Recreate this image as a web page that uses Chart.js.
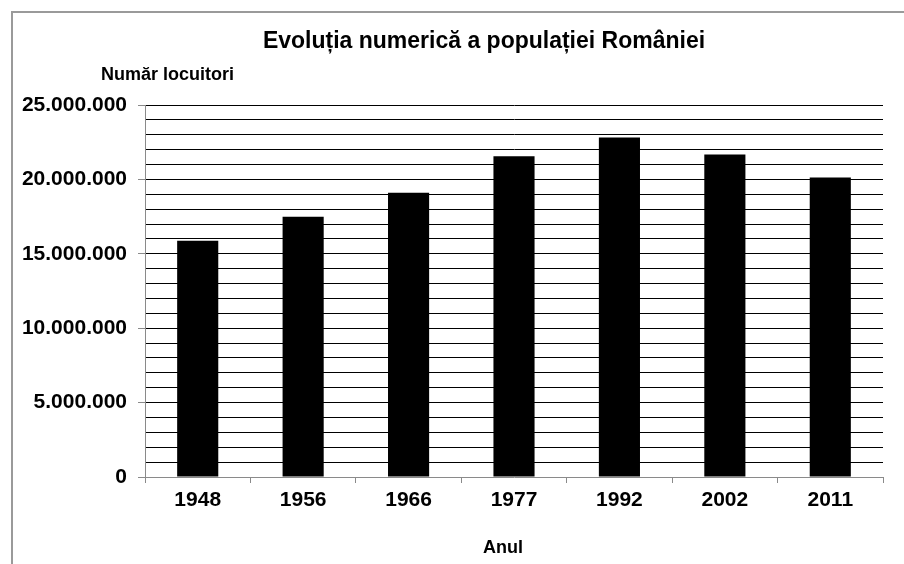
<!DOCTYPE html>
<html>
<head>
<meta charset="utf-8">
<script src="https://cdn.jsdelivr.net/npm/chart.js@4/dist/chart.umd.min.js"></script>
<style>
    body { margin: 0; background: #fff; }
    #wrap { width: 904px; height: 564px; position: relative; }
</style>
</head>
<body>
<div id="wrap"><canvas id="popChart" width="904" height="564"></canvas></div>
<script>
const years = ['1948', '1956', '1966', '1977', '1992', '2002', '2011'];
const population = [15872624, 17489450, 19103163, 21559910, 22810035, 21680974, 20121641];
const yMax = 25000000;
const yStep = 1000000;
const yLabelStep = 5000000;

const chartTitle = 'Evoluția numerică a populației României';
const yTitle = 'Număr locuitori';
const xTitle = 'Anul';

const axisGray = '#8a8a8a';
const fontFamily = 'Arial, "Liberation Sans", sans-serif';

function formatNumber(v) {
    return String(v).replace(/\B(?=(\d{3})+(?!\d))/g, '.');
}

// frame, title and axis titles (drawn by hand so they sit where the original has them)
const extras = {
    id: 'extras',
    beforeDraw(chart) {
        const c = chart.ctx;
        c.save();
        c.strokeStyle = '#9a9a9a';
        c.lineWidth = 2;
        c.beginPath();
        c.moveTo(12, chart.height);
        c.lineTo(12, 12);
        c.lineTo(chart.width, 12);
        c.stroke();
        c.restore();
    },
    afterDraw(chart) {
        const c = chart.ctx;
        const area = chart.chartArea;
        const mid = (area.left + area.right) / 2;
        c.save();
        c.fillStyle = '#000';
        c.textBaseline = 'middle';

        c.font = 'bold 23px ' + fontFamily;
        c.textAlign = 'center';
        c.fillText(chartTitle, mid - 30, area.top - 63);

        c.font = 'bold 18px ' + fontFamily;
        c.fillText(xTitle, mid - 11, chart.height - 16);

        c.textAlign = 'left';
        c.fillText(yTitle, area.left - 44, area.top - 30);
        c.restore();
    }
};

const ctx = document.getElementById('popChart').getContext('2d');
const chart = new Chart(ctx, {
    type: 'bar',
    data: {
        labels: years,
        datasets: [{
            data: population,
            backgroundColor: '#000',
            categoryPercentage: 1,
            barPercentage: 0.39
        }]
    },
    options: {
        responsive: false,
        animation: false,
        layout: {
            padding: { left: 12, right: 21, top: 105, bottom: 0 }
        },
        plugins: {
            legend: { display: false },
            tooltip: { enabled: false },
            title: { display: false }
        },
        scales: {
            x: {
                afterFit: scale => { scale.height = 87; },
                border: { color: axisGray },
                grid: {
                    offset: true,
                    drawOnChartArea: false,
                    drawTicks: true,
                    tickLength: 6,
                    tickColor: axisGray
                },
                ticks: {
                    color: '#000',
                    padding: 5,
                    font: { family: fontFamily, size: 21, weight: 'bold' }
                }
            },
            y: {
                min: 0,
                max: yMax,
                afterFit: scale => { scale.width = 133; },
                border: { color: axisGray },
                grid: {
                    color: c => c.tick && c.tick.value === 0 ? 'transparent' : '#000',
                    tickLength: 7,
                    tickColor: c => c.tick && c.tick.value % yLabelStep === 0 ? axisGray : 'transparent'
                },
                ticks: {
                    stepSize: yStep,
                    autoSkip: false,
                    padding: 11,
                    color: '#000',
                    font: { family: fontFamily, size: 21, weight: 'bold' },
                    callback: v => v % yLabelStep === 0 ? formatNumber(v) : ''
                }
            }
        }
    },
    plugins: [extras]
});
</script>
</body>
</html>
